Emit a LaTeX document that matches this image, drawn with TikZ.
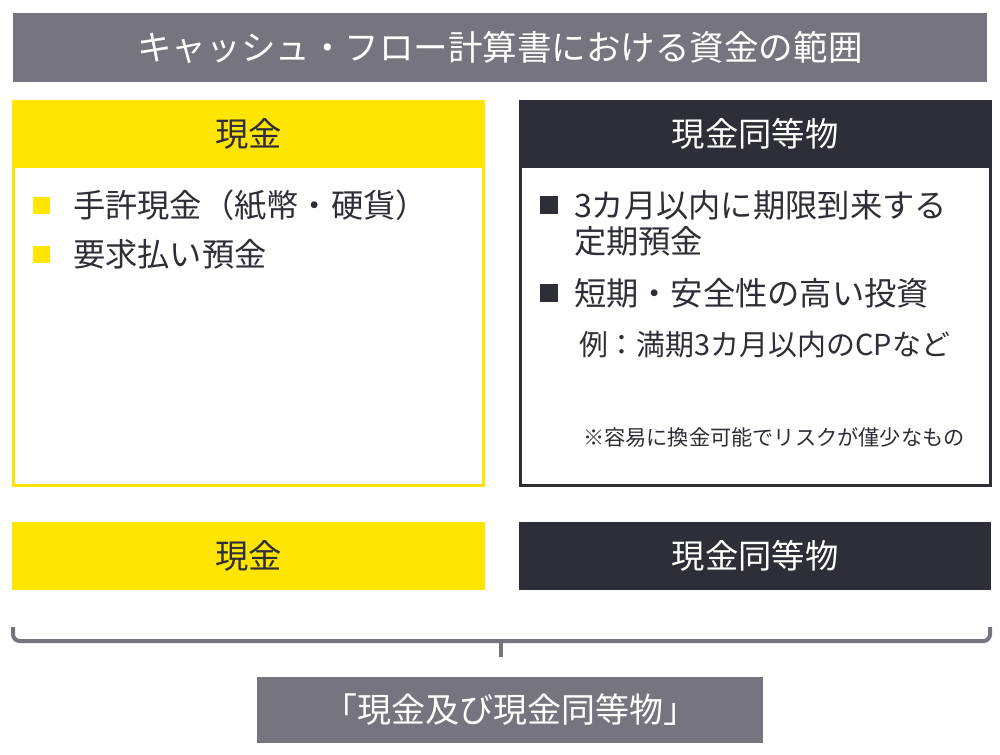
\documentclass[tikz,border=0pt]{standalone}
\usepackage{fontspec}
\setmainfont{Noto Sans CJK JP}
\begin{document}
\begin{tikzpicture}[x=0.75pt,y=-0.75pt,
  every node/.style={inner sep=0pt,outer sep=0pt},
  graybar/.style={fill=cgray,draw=none},
  hdrtext/.style={font=\fontsize{25pt}{30pt}\selectfont},
  titletext/.style={font=\fontsize{25.9pt}{30pt}\selectfont},
  bottomtext/.style={font=\fontsize{25.5pt}{30pt}\selectfont},
  bodytext/.style={font=\fontsize{24.2pt}{28pt}\selectfont,text=cdark,anchor=west},
  exampletext/.style={font=\fontsize{21.7pt}{26pt}\selectfont,text=cdark,anchor=west},
  notetext/.style={font=\fontsize{15.9pt}{19pt}\selectfont,text=cdark,anchor=west},
  ybullet/.style={fill=cyellow,minimum width=12.75pt,minimum height=12.75pt},
  dbullet/.style={fill=cdark,minimum width=13pt,minimum height=13pt},
]
\definecolor{cgray}{HTML}{76757F}
\definecolor{cyellow}{HTML}{FFE500}
\definecolor{cdark}{HTML}{2E2E38}
\useasboundingbox (0,0) rectangle (1000,754);
\fill[white] (0,0) rectangle (1000,754);
% title
\node[graybar,minimum width=730.5pt,minimum height=51.75pt,text=white,titletext] (title) at (500,47.5) {キャッシュ・フロー計算書における資金の範囲};
% left box
\node[draw=cyellow,line width=2.25pt,minimum width=352.5pt,minimum height=288pt] (lbox) at (248.5,293.5) {};
\node[fill=cyellow,minimum width=354.75pt,minimum height=51pt,text=cdark,hdrtext] (lhead) at (248.5,134) {現金};
% right box
\node[draw=cdark,line width=2.25pt,minimum width=352.5pt,minimum height=288pt] (rbox) at (755,293.5) {};
\node[fill=cdark,minimum width=354.75pt,minimum height=51pt,text=white,hdrtext] (rhead) at (755,134) {現金同等物};
% left bullets
\node[ybullet] (lb1) at (41.5,205) {};
\node[bodytext] (lt1) at (73,205) {手許現金（紙幣・硬貨）};
\node[ybullet] (lb2) at (41.5,254) {};
\node[bodytext] (lt2) at (73,254) {要求払い預金};
% right bullets
\node[dbullet] (rb1) at (549,205) {};
\node[bodytext] (rt1) at (574,205) {3カ月以内に期限到来する};
\node[bodytext] (rt1b) at (574,241) {定期預金};
\node[dbullet] (rb2) at (549,293) {};
\node[bodytext] (rt2) at (574,293) {短期・安全性の高い投資};
\node[exampletext] (rt3) at (579,345) {例：満期3カ月以内のCPなど};
\node[notetext] (note) at (583,437) {※容易に換金可能でリスクが僅少なもの};
% bottom bars
\node[fill=cyellow,minimum width=354.75pt,minimum height=51pt,text=cdark,hdrtext] (lbar) at (248.5,556) {現金};
\node[fill=cdark,minimum width=354pt,minimum height=51pt,text=white,hdrtext] (rbar) at (755,556) {現金同等物};
% brace
\coordinate (bl) at (13,627);
\coordinate (br) at (990,627);
\coordinate (bm) at (501,641);
\coordinate (bt) at (501,657);
\draw[cgray,line width=3pt,rounded corners=5pt] (bl) -- (13,641) -- (990,641) -- (br);
\draw[cgray,line width=3pt] (bm) -- (bt);
% bottom label
\node[graybar,minimum width=379.5pt,minimum height=49.5pt,text=white,bottomtext] (total) at (510,709.5) {「現金及び現金同等物」};
\end{tikzpicture}
\end{document}
